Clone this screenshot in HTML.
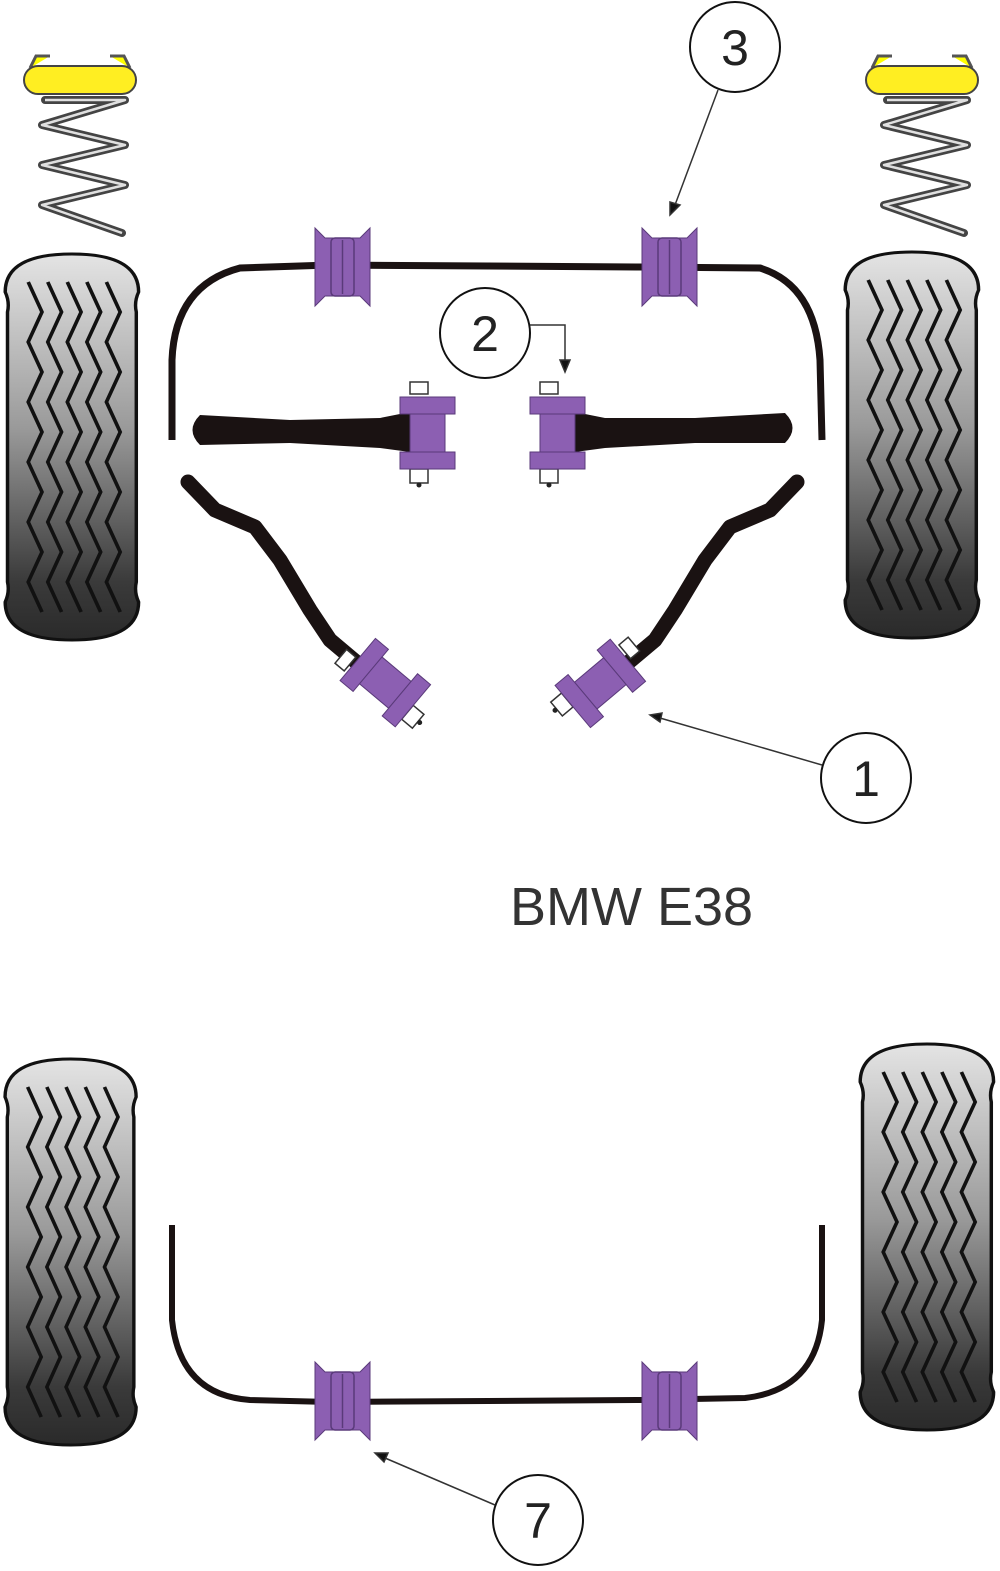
<!DOCTYPE html>
<html><head><meta charset="utf-8"><style>html,body{margin:0;padding:0;background:#fff}svg{display:block}</style></head>
<body>
<svg width="1000" height="1571" viewBox="0 0 1000 1571" xmlns="http://www.w3.org/2000/svg">
<defs>
<linearGradient id="tg" x1="0" y1="0" x2="0" y2="1">
<stop offset="0" stop-color="#e4e4e4"/><stop offset="0.45" stop-color="#9a9a9a"/><stop offset="0.85" stop-color="#3a3a3a"/><stop offset="1" stop-color="#2a2a2a"/>
</linearGradient>
<g id="tyre">
<path d="M8,40 Q8,2 66,2 Q124,2 124,40 Q120,50 122,60 L122,330 Q120,340 124,350 Q124,388 66,388 Q8,388 8,350 Q12,340 10,330 L10,60 Q12,50 8,40 Z" fill="url(#tg)" stroke="#111" stroke-width="3"/>
<g fill="none" stroke="#111" stroke-width="3.2">
<path id="zz" d="M28,30 l12,30 l-12,30 l12,30 l-12,30 l12,30 l-12,30 l12,30 l-12,30 l12,30 l-12,30 l12,30"/>
<use href="#zz" x="17"/><use href="#zz" x="34"/><use href="#zz" x="51"/><use href="#zz" x="68"/>
</g>
</g>
<g id="spring">
<path d="M30,68 L36,56 L50,56 M130,68 L124,56 L110,56" stroke="#555" stroke-width="3" fill="#ff0"/>
<rect x="24" y="66" width="112" height="28" rx="14" fill="#ffee22" stroke="#444" stroke-width="2"/>
<g fill="none" stroke="#444" stroke-width="8" stroke-linecap="round" stroke-linejoin="round">
<path d="M45,100 L125,100 L42,125 L125,145 L42,165 L125,185 L42,205 L122,233"/>
</g>
<g fill="none" stroke="#e0e0e0" stroke-width="2.5" stroke-linejoin="round">
<path d="M45,100 L125,100 L42,125 L125,145 L42,165 L125,185 L42,205 L122,233"/>
</g>
</g>
<g id="bush">
<path d="M0,0 L10,10 L45,10 L55,0 L55,78 L45,68 L10,68 L0,78 Z" fill="#8c5fb2" stroke="#5a3a7a" stroke-width="1"/>
<rect x="16" y="10" width="23" height="58" rx="4" fill="#8c5fb2" stroke="#5a3a7a" stroke-width="1.5"/>
<line x1="27.5" y1="12" x2="27.5" y2="66" stroke="#5a3a7a" stroke-width="1.5"/>
</g>
<g id="mount">
<rect x="10" y="-15" width="18" height="12" fill="#fff" stroke="#333" stroke-width="1.5"/>
<rect x="10" y="72" width="18" height="14" fill="#fff" stroke="#333" stroke-width="1.5"/>
<circle cx="19" cy="88" r="2.5" fill="#222"/>
<rect x="0" y="0" width="55" height="17" fill="#8c5fb2" stroke="#5a3a7a"/>
<rect x="10" y="17" width="35" height="38" fill="#8c5fb2" stroke="#5a3a7a"/>
<rect x="0" y="55" width="55" height="17" fill="#8c5fb2" stroke="#5a3a7a"/>
</g>
</defs>

<use href="#tyre" transform="translate(-4,252) scale(1.15,1)"/>
<use href="#tyre" transform="translate(836,250) scale(1.15,1)"/>
<use href="#tyre" transform="translate(-4,1057) scale(1.13,1)"/>
<use href="#tyre" transform="translate(851,1042) scale(1.15,1)"/>

<use href="#spring" x="0" y="0"/>
<use href="#spring" x="842" y="0"/>

<path d="M172,440 L172,360 Q175,285 240,268 L330,265 L640,267 L760,268 Q815,285 820,360 L822,440" fill="none" stroke="#1a1212" stroke-width="7"/>
<use href="#bush" x="315" y="228"/>
<use href="#bush" x="642" y="228"/>

<path d="M200,415 Q185,430 200,445 L290,443 L380,448 L410,452 L410,412 L380,418 L290,420 Z" fill="#1a1212"/>
<path d="M785,413 Q800,428 785,443 L695,443 L605,448 L575,452 L575,412 L605,418 L695,418 Z" fill="#1a1212"/>
<use href="#mount" x="400" y="397"/>
<use href="#mount" x="530" y="397"/>

<path d="M188,482 L215,510 L255,527 L280,560 L310,610 L330,640 L368,672" fill="none" stroke="#1a1212" stroke-width="15" stroke-linecap="round" stroke-linejoin="round"/>
<path d="M797,482 L770,510 L730,527 L705,560 L675,610 L655,640 L617,672" fill="none" stroke="#1a1212" stroke-width="15" stroke-linecap="round" stroke-linejoin="round"/>
<g transform="translate(385,683) rotate(-50) translate(-27,-36)"><use href="#mount"/></g>
<g transform="translate(600,683) rotate(50) translate(-27,-36)"><use href="#mount"/></g>

<path d="M172,1225 L172,1320 Q180,1395 250,1400 L330,1402 L640,1400 L745,1398 Q815,1390 822,1320 L822,1225" fill="none" stroke="#1a1212" stroke-width="6"/>
<use href="#bush" x="315" y="1362"/>
<use href="#bush" x="642" y="1362"/>

<g fill="#fff" stroke="#111" stroke-width="2">
<circle cx="735" cy="47" r="45"/>
<circle cx="485" cy="333" r="45"/>
<circle cx="866" cy="778" r="45"/>
<circle cx="538" cy="1520" r="45"/>
</g>
<g font-family="Liberation Sans, sans-serif" font-size="50" fill="#222" text-anchor="middle">
<text x="735" y="65">3</text>
<text x="485" y="351">2</text>
<text x="866" y="796">1</text>
<text x="538" y="1538">7</text>
</g>
<g stroke="#333" stroke-width="1.5" fill="#111">
<line x1="718" y1="90" x2="675" y2="205"/><path d="M670,215 L670,202 L680,205 Z"/>
<polyline points="530,325 565,325 565,362" fill="none"/><path d="M565,372 L560,360 L570,360 Z"/>
<line x1="822" y1="765" x2="660" y2="718"/><path d="M650,715 L662,713 L660,722 Z"/>
<line x1="495" y1="1505" x2="385" y2="1458"/><path d="M375,1453 L388,1453 L384,1462 Z"/>
</g>

<text x="510" y="925" font-family="Liberation Sans, sans-serif" font-size="54" fill="#333">BMW E38</text>
</svg>
</body></html>
